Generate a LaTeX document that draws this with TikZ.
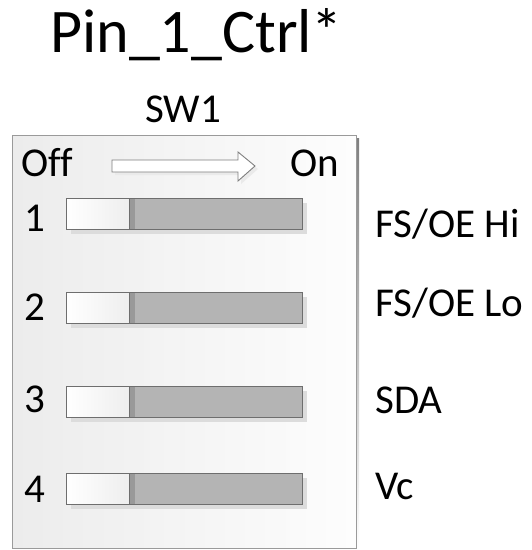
\documentclass[tikz,border=0pt]{standalone}
\usepackage{fontspec}
\setmainfont{Carlito}[Ligatures=NoCommon]
\definecolor{boxline}{HTML}{9A9A9A}
\definecolor{boxleft}{HTML}{ECECEC}
\definecolor{boxright}{HTML}{FDFDFD}
\definecolor{slotfill}{HTML}{B4B4B4}
\definecolor{slotline}{HTML}{6E6E6E}
\definecolor{knobfill}{HTML}{EEEEEE}
\definecolor{shade}{HTML}{DCDCDC}
\definecolor{arrowline}{HTML}{7F7F7F}
\begin{document}
\begin{tikzpicture}[x=1pt,y=-1pt,
	lbl/.style={anchor=base west,inner sep=0pt,font=\fontsize{41}{44}\selectfont},
	slot/.style={draw=slotline,fill=slotfill,line width=0.8pt},
	knob/.style={draw=slotline,line width=0.8pt,left color=white,right color=knobfill},
	drop/.style={fill=shade}]
	\useasboundingbox (0,0) rectangle (532,550);
	% title and switch name
	\node[anchor=base west,inner sep=0pt,font=\fontsize{62}{66}\selectfont] (title) at (50,52) {Pin\_1\_Ctrl*};
	\node[lbl,anchor=base] (sw) at (183,122) {SW1};
	% housing
	\fill[shade] (15,138) rectangle (359,551);
	\draw[boxline,line width=0.8pt,left color=boxleft,right color=boxright] (12,135) rectangle (356,548);
	\node[lbl] (off) at (21,176) {Off};
	\node[lbl] (on) at (290,176) {On};
	\fill[shade!60!white] (115,163) -- (241,163) -- (241,155) -- (258,169) -- (241,184) -- (241,175) -- (115,175) -- cycle;
	\draw[arrowline,line width=0.9pt,fill=white] (112,160) -- (238,160) -- (238,152) -- (255,166) -- (238,181) -- (238,172) -- (112,172) -- cycle;
	% switches
	\foreach \i/\yt/\yb in {1/198/231,2/292/320,3/386/412,4/473/502} {
		\fill[drop] (71,{\yt+5}) rectangle (307,{\yt+36});
		\draw[slot] (66,\yt) rectangle (302,{\yt+31});
		\fill[slotfill!85!black] (129,{\yt+0.5}) rectangle (135,{\yt+30.5});
		\draw[knob] (66,\yt) rectangle (129,{\yt+31});
		\node[lbl] (n\i) at (24,\yb) {\i};
	}
	% pin functions
	\node[lbl] (hi) at (375,237) {FS/OE Hi};
	\node[lbl] (lo) at (375,316) {FS/OE Lo};
	\node[lbl] (sda) at (375,413) {SDA};
	\node[lbl] (vc) at (375,499) {Vc};
\end{tikzpicture}
\end{document}
